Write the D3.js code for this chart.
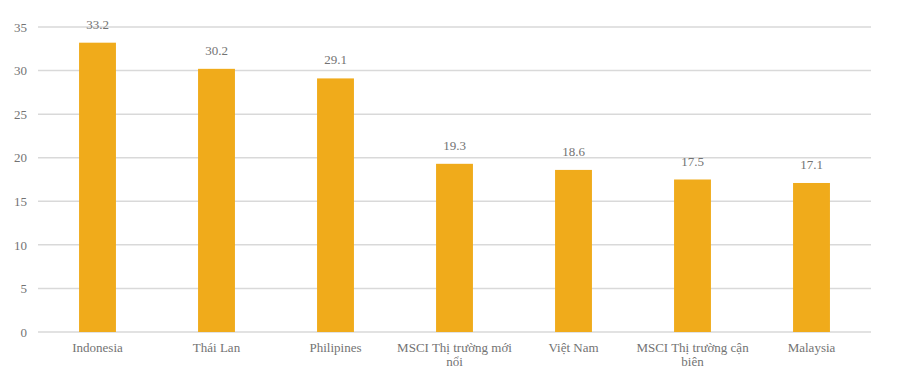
<!DOCTYPE html>
<html>
<head>
<meta charset="utf-8">
<script src="https://cdn.jsdelivr.net/npm/d3@7"></script>
<style>
  body { margin: 0; background: #fff; }
  svg text { font-family: 'Liberation Serif', 'Times New Roman', serif; fill: #737373; }
</style>
</head>
<body>
<div id="chart"></div>
<script>
// du lieu
var categories = ['Indonesia', 'Thái Lan', 'Philipines', 'MSCI Thị trường mới nổi', 'Việt Nam', 'MSCI Thị trường cận biên', 'Malaysia'];
var values = [33.2, 30.2, 29.1, 19.3, 18.6, 17.5, 17.1];
var yTicks = [0, 5, 10, 15, 20, 25, 30, 35];

var width = 898, height = 383;
var margin = { top: 27, right: 27, bottom: 51, left: 38 };
var serif = "'Liberation Serif', 'Times New Roman', serif";
var textColor = '#737373';

var svg = d3.select('#chart').append('svg')
    .attr('width', width)
    .attr('height', height);

var x = d3.scaleBand()
    .domain(categories)
    .range([margin.left, width - margin.right])
    .paddingInner(0.69)
    .paddingOuter(0.345);

var y = d3.scaleLinear()
    .domain([0, 35])
    .range([height - margin.bottom, margin.top]);

// luoi
svg.append('g')
    .selectAll('line')
    .data(yTicks)
    .enter().append('line')
    .attr('x1', margin.left)
    .attr('x2', width - margin.right)
    .attr('y1', function (d) { return y(d); })
    .attr('y2', function (d) { return y(d); })
    .style('stroke', '#d9d9d9')
    .style('stroke-width', 1.5);

// truc y
var yAxis = svg.append('g')
    .attr('transform', 'translate(' + (margin.left - 11) + ',0)')
    .call(d3.axisLeft(y).tickValues(yTicks).tickSize(0).tickPadding(0));
yAxis.attr('font-family', null).attr('font-size', null);
yAxis.select('.domain').remove();
yAxis.selectAll('text')
    .style('font-size', '13px')
    .style('font-family', serif)
    .style('fill', textColor);

// cot
svg.append('g')
    .selectAll('rect')
    .data(values)
    .enter().append('rect')
    .attr('x', function (d, i) { return x(categories[i]); })
    .attr('y', function (d) { return y(d); })
    .attr('width', x.bandwidth())
    .attr('height', function (d) { return y(0) - y(d); })
    .style('fill', '#f0ab1b');

// nhan gia tri
svg.append('g')
    .selectAll('text')
    .data(values)
    .enter().append('text')
    .attr('x', function (d, i) { return x(categories[i]) + x.bandwidth() / 2; })
    .attr('y', function (d) { return y(d) - 14; })
    .attr('text-anchor', 'middle')
    .style('font-size', '13px')
    .style('font-family', serif)
    .style('fill', textColor)
    .text(function (d) { return d.toFixed(1); });

// truc x
var xAxis = svg.append('g')
    .attr('transform', 'translate(0,' + y(0) + ')')
    .call(d3.axisBottom(x).tickSize(0).tickPadding(0));
xAxis.attr('font-family', null).attr('font-size', null);
xAxis.select('.domain').remove();
xAxis.selectAll('text')
    .style('font-size', '13px')
    .style('font-family', serif)
    .style('fill', textColor)
    .attr('y', 20)
    .attr('dy', 0)
    .call(wrap, x.step());

function wrap(texts, w) {
    texts.each(function () {
        var text = d3.select(this);
        var words = text.text().split(/\s+/);
        var line = [];
        var lineNo = 0;
        var yy = text.attr('y');
        var tspan = text.text(null).append('tspan').attr('x', 0).attr('y', yy);
        words.forEach(function (word) {
            line.push(word);
            tspan.text(line.join(' '));
            if (tspan.node().getComputedTextLength() > w && line.length > 1) {
                line.pop();
                tspan.text(line.join(' '));
                line = [word];
                lineNo++;
                tspan = text.append('tspan').attr('x', 0).attr('y', yy)
                    .attr('dy', lineNo * 14 + 'px').text(word);
            }
        });
    });
}
</script>
</body>
</html>
